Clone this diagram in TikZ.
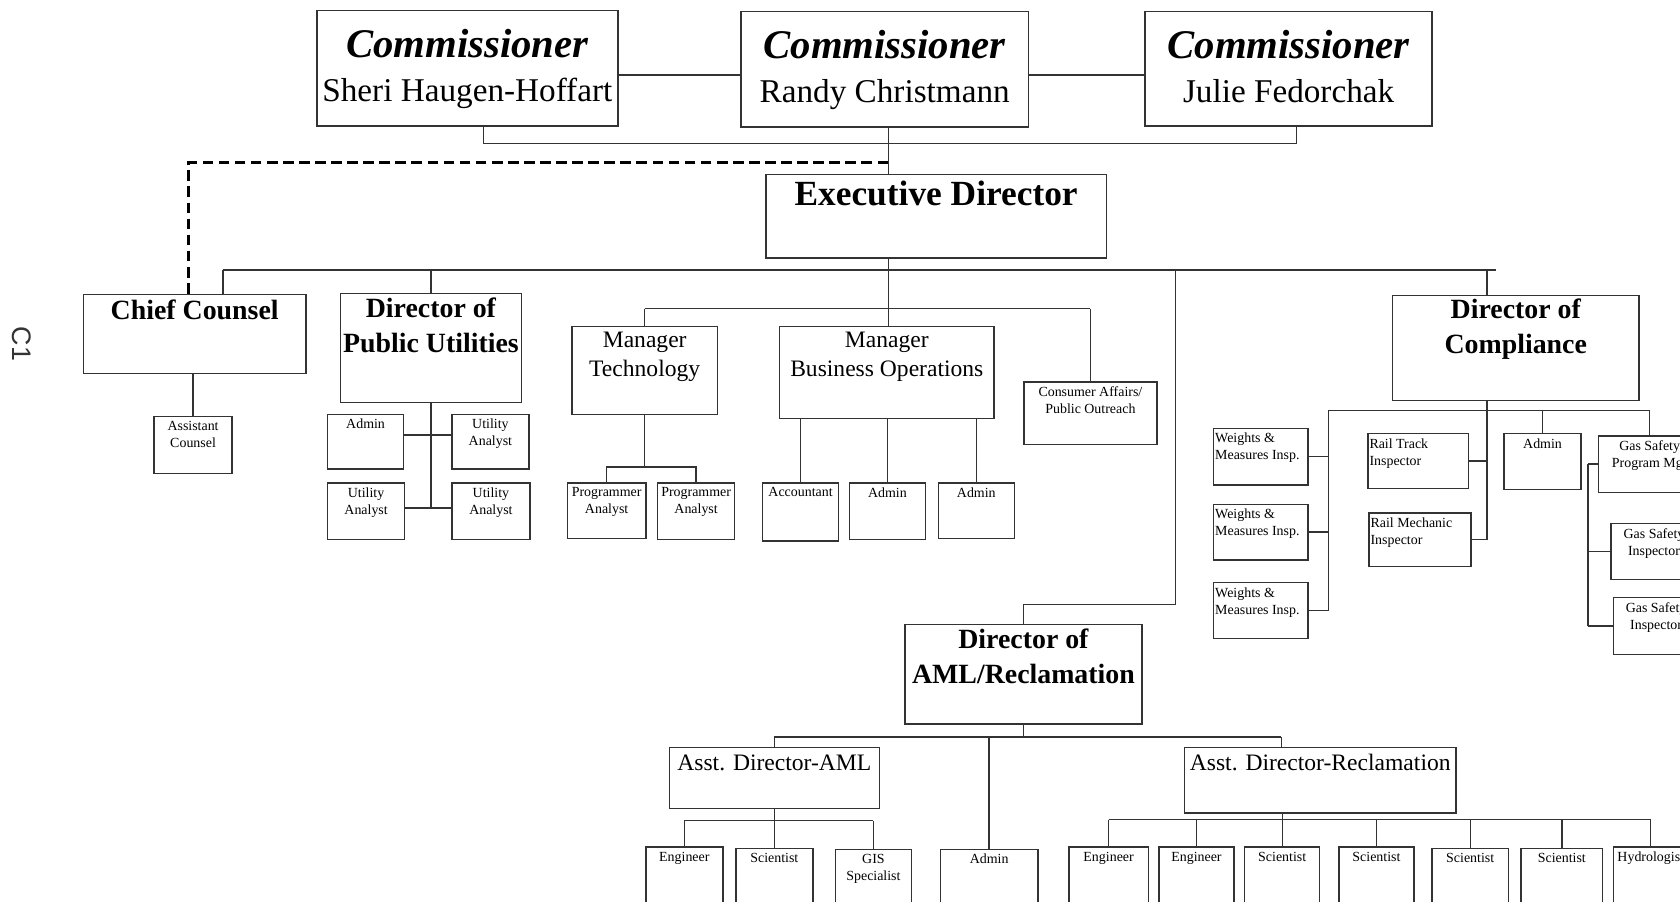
\documentclass[tikz,border=0pt]{standalone}
\usepackage{fontspec}
\setmainfont{Liberation Serif}
\newfontfamily\tagfont{Liberation Sans}
\usepackage{xcolor}
\usetikzlibrary{positioning}
\definecolor{rulegray}{HTML}{333333}

\tikzset{
  unit/.style={draw=rulegray, line width=1.4pt, fill=white, inner sep=0pt, anchor=north west},
  link/.style={draw=rulegray, line width=1.3pt},
  dashlink/.style={draw=black, line width=3pt, dash pattern=on 10pt off 5pt},
  commtxt/.style={font=\fontsize{38}{40}\selectfont\bfseries\itshape, inner sep=0pt},
  nametxt/.style={font=\fontsize{31}{34}\selectfont, inner sep=0pt},
  toptxt/.style={font=\fontsize{33}{38}\selectfont\bfseries, inner sep=0pt},
  headtxt/.style={font=\fontsize{26}{32.5}\selectfont\bfseries, align=center, inner sep=0pt},
  midtxt/.style={font=\fontsize{22}{27}\selectfont, align=center, inner sep=0pt},
  smalltxt/.style={font=\fontsize{13}{16}\selectfont, align=center, inner sep=0pt},
  tagtxt/.style={font=\tagfont\fontsize{25}{25}\selectfont, text=rulegray, inner sep=0pt}
}

\begin{document}
\begin{tikzpicture}[x=1pt, y=-1pt]

  % page
  \useasboundingbox (0,0) rectangle (1568,841);
  \fill[white] (0,0) rectangle (1568,841);
  \clip (0,0) rectangle (1568,841);

  % side tag
  \node[tagtxt, rotate=-90] (tag) at (20,321) {C1};

  % commissioners
  \node[unit, minimum width=281pt, minimum height=108pt] (comA) at (295,9) {};
  \node[unit, minimum width=268pt, minimum height=108pt] (comB) at (691,10) {};
  \node[unit, minimum width=268pt, minimum height=107pt] (comC) at (1068,10) {};
  \node[commtxt, below=18pt of comA.north] (comAt) {Commissioner};
  \node[commtxt, below=18pt of comB.north] (comBt) {Commissioner};
  \node[commtxt, below=18pt of comC.north] (comCt) {Commissioner};
  \node[nametxt, below=19pt of comAt] (comAn) {Sheri Haugen-Hoffart};
  \node[nametxt, below=19pt of comBt] (comBn) {Randy Christmann};
  \node[nametxt, below=19pt of comCt] (comCn) {Julie Fedorchak};

  % executive director
  \node[unit, minimum width=318pt, minimum height=78pt] (exec) at (714,162) {};
  \node[toptxt, below=7pt of exec.north] (exect) {Executive Director};

  % directors
  \node[unit, minimum width=208pt, minimum height=74pt] (cc) at (77,274) {};
  \node[headtxt, below=6pt of cc.north] (cct) {Chief Counsel};
  \node[unit, minimum width=169pt, minimum height=102pt] (pu) at (317,273) {};
  \node[headtxt, below=5pt of pu.north] (put) {Director of\\Public Utilities};
  \node[unit, minimum width=230pt, minimum height=98pt] (dc) at (1299,275) {};
  \node[headtxt, below=4pt of dc.north] (dct) {Director of\\Compliance};
  \node[unit, minimum width=221pt, minimum height=93pt] (aml) at (844,582) {};
  \node[headtxt, below=5pt of aml.north] (amlt) {Director of\\AML/Reclamation};

  % managers
  \node[unit, minimum width=136pt, minimum height=82pt] (mt) at (533,304) {};
  \node[midtxt, below=6pt of mt.north] (mtt) {Manager\\Technology};
  \node[unit, minimum width=200pt, minimum height=86pt] (mb) at (727,304) {};
  \node[midtxt, below=6pt of mb.north] (mbt) {Manager\\Business Operations};
  \node[unit, minimum width=196pt, minimum height=57pt] (ada) at (624,697) {};
  \node[midtxt, below=7pt of ada.north] (adat) {Asst. Director-AML};
  \node[unit, minimum width=253pt, minimum height=61pt] (adr) at (1105,697) {};
  \node[midtxt, below=7pt of adr.north] (adrt) {Asst. Director-Reclamation};

  % staff, centred text
  \foreach \n/\x/\y/\w/\h/\t in {
      ac/143/388/73/53/{Assistant\\Counsel},
      pu1/305/386/71/51/Admin, pu2/421/386/72/51/{Utility\\Analyst},
      pu3/305/450/72/53/{Utility\\Analyst}, pu4/421/450/73/53/{Utility\\Analyst},
      ca/955/356/124/58/{Consumer Affairs/\\Public Outreach},
      pa1/529/450/73/52/{Programmer\\Analyst}, pa2/613/450/72/53/{Programmer\\Analyst},
      acc/711/450/71/54/Accountant, ad1/792/450/71/53/Admin, ad2/875/450/71/52/Admin,
      cad/1403/404/72/52/Admin,
      gs0/1491/406/96/53/{Gas Safety\\Program Mgr},
      gs1/1503/488/80/52/{Gas Safety\\Inspector}, gs2/1505/557/80/53/{Gas Safety\\Inspector},
      e1/602/790/72/70/Engineer, s1/686/791/72/70/Scientist, gis/779/792/71/70/{GIS\\Specialist},
      adm/877/792/91/70/Admin,
      r1/997/790/74/70/Engineer, r2/1081/790/70/70/Engineer, r3/1161/790/70/70/Scientist,
      r4/1249/790/70/70/Scientist, r5/1336/791/71/70/Scientist, r6/1419/791/76/70/Scientist,
      r7/1505/790/70/70/Hydrologist} {
    \node[unit, minimum width=\w pt, minimum height=\h pt] (\n) at (\x,\y) {};
    \node[smalltxt, below=5pt of \n.north] (\n-t) {\t};
  }

  % staff, text on the left
  \foreach \n/\x/\y/\w/\h/\t in {
      wm1/1132/399/88/53/{Weights \&\\Measures Insp.},
      wm2/1132/470/88/52/{Weights \&\\Measures Insp.},
      wm3/1132/543/88/52/{Weights \&\\Measures Insp.},
      rt/1276/404/94/51/{Rail Track\\Inspector},
      rm/1277/478/95/50/{Rail Mechanic\\Inspector}} {
    \node[unit, minimum width=\w pt, minimum height=\h pt] (\n) at (\x,\y) {};
    \node[smalltxt, align=left, below right=5pt and 2pt of \n.north west] (\n-t) {\t};
  }

  % links between the commissioners
  \coordinate (crow) at (0,70);
  \draw[link] (comA.east |- crow) -- (comB.west |- crow);
  \draw[link] (comB.east |- crow) -- (comC.west |- crow);
  \coordinate (brA) at (451,134);
  \coordinate (brC) at (1210,134);
  \draw[link] (brA |- comA.south) -- (brA) -- (brC) -- (brC |- comC.south);

  % spine
  \coordinate (spine) at (829,0);
  \draw[link] (spine |- comB.south) -- (spine |- exec.north);
  \draw[link] (spine |- exec.south) -- (spine |- mb.north);

  % dashed line to chief counsel
  \coordinate (dsh) at (176,152);
  \draw[dashlink] (spine |- dsh) -- (dsh) -- (dsh |- cc.north);

  % director bus
  \coordinate (busA) at (208,252);
  \coordinate (busD) at (1097,252);
  \coordinate (busE) at (1396,252);
  \coordinate (dcx) at (1388,0);
  \draw[link] (busA) -- (busE);
  \draw[link] (busA) -- (busA |- cc.north);
  \draw[link] (pu.north |- busA) -- (pu.north);
  \draw[link] (dcx |- busA) -- (dcx |- dc.north);

  % AML branch
  \coordinate (amlJ) at (1097,564);
  \draw[link] (busD) -- (amlJ) -- (amlJ -| aml.north) -- (aml.north);

  % managers bus
  \coordinate (mbus) at (0,288);
  \draw[link] (mt.north |- mbus) -- (ca.north |- mbus);
  \draw[link] (mt.north |- mbus) -- (mt.north);
  \draw[link] (ca.north |- mbus) -- (ca.north);

  % chief counsel staff
  \draw[link] (ac.north |- cc.south) -- (ac.north);

  % public utilities staff
  \coordinate (prow1) at (0,406);
  \coordinate (prow2) at (0,474);
  \draw[link] (pu.south) -- (pu.south |- prow2);
  \draw[link] (pu1.east |- prow1) -- (pu2.west |- prow1);
  \draw[link] (pu3.east |- prow2) -- (pu4.west |- prow2);

  % programmers
  \coordinate (prog) at (0,436);
  \draw[link] (mt.south) -- (mt.south |- prog);
  \draw[link] (pa1.north) -- (pa1.north |- prog) -- (pa2.north |- prog) -- (pa2.north);

  % business operations staff
  \foreach \n in {acc,ad1,ad2}
    \draw[link] (\n.north |- mb.south) -- (\n.north);

  % compliance staff
  \coordinate (cbus) at (0,383);
  \coordinate (wmx) at (1240,0);
  \coordinate (gsx) at (1482,0);
  \draw[link] (wmx |- cbus) -- (gs0.north |- cbus);
  \draw[link] (dcx |- dc.south) -- (dcx |- rm.east);
  \draw[link] (wmx |- cbus) -- (wmx |- wm3.east);
  \foreach \n in {wm1,wm2,wm3}
    \draw[link] (\n.east) -- (\n.east -| wmx);
  \foreach \n in {rt,rm}
    \draw[link] (\n.east) -- (\n.east -| dcx);
  \foreach \n in {cad,gs0}
    \draw[link] (\n.north |- cbus) -- (\n.north);
  \draw[link] (gsx |- gs0.west) -- (gsx |- gs2.west);
  \foreach \n in {gs0,gs1,gs2}
    \draw[link] (\n.west) -- (\n.west -| gsx);

  % AML staff
  \coordinate (abus) at (0,688);
  \coordinate (adrx) at (1196,0);
  \draw[link] (aml.south) -- (aml.south |- abus);
  \draw[link] (ada.north |- abus) -- (adrx |- abus);
  \draw[link] (ada.north |- abus) -- (ada.north);
  \draw[link] (adrx |- abus) -- (adrx |- adr.north);
  \draw[link] (adm.north |- abus) -- (adm.north);
  \coordinate (kbus) at (0,766);
  \draw[link] (ada.south) -- (s1.north);
  \draw[link] (e1.north |- kbus) -- (gis.north |- kbus);
  \foreach \n in {e1,gis}
    \draw[link] (\n.north |- kbus) -- (\n.north);

  % reclamation staff
  \coordinate (rbus) at (0,765);
  \draw[link] (r3.north |- adr.south) -- (r3.north);
  \draw[link] (r1.north |- rbus) -- (r7.north |- rbus);
  \foreach \n in {r1,r2,r4,r5,r6,r7}
    \draw[link] (\n.north |- rbus) -- (\n.north);

\end{tikzpicture}
\end{document}
